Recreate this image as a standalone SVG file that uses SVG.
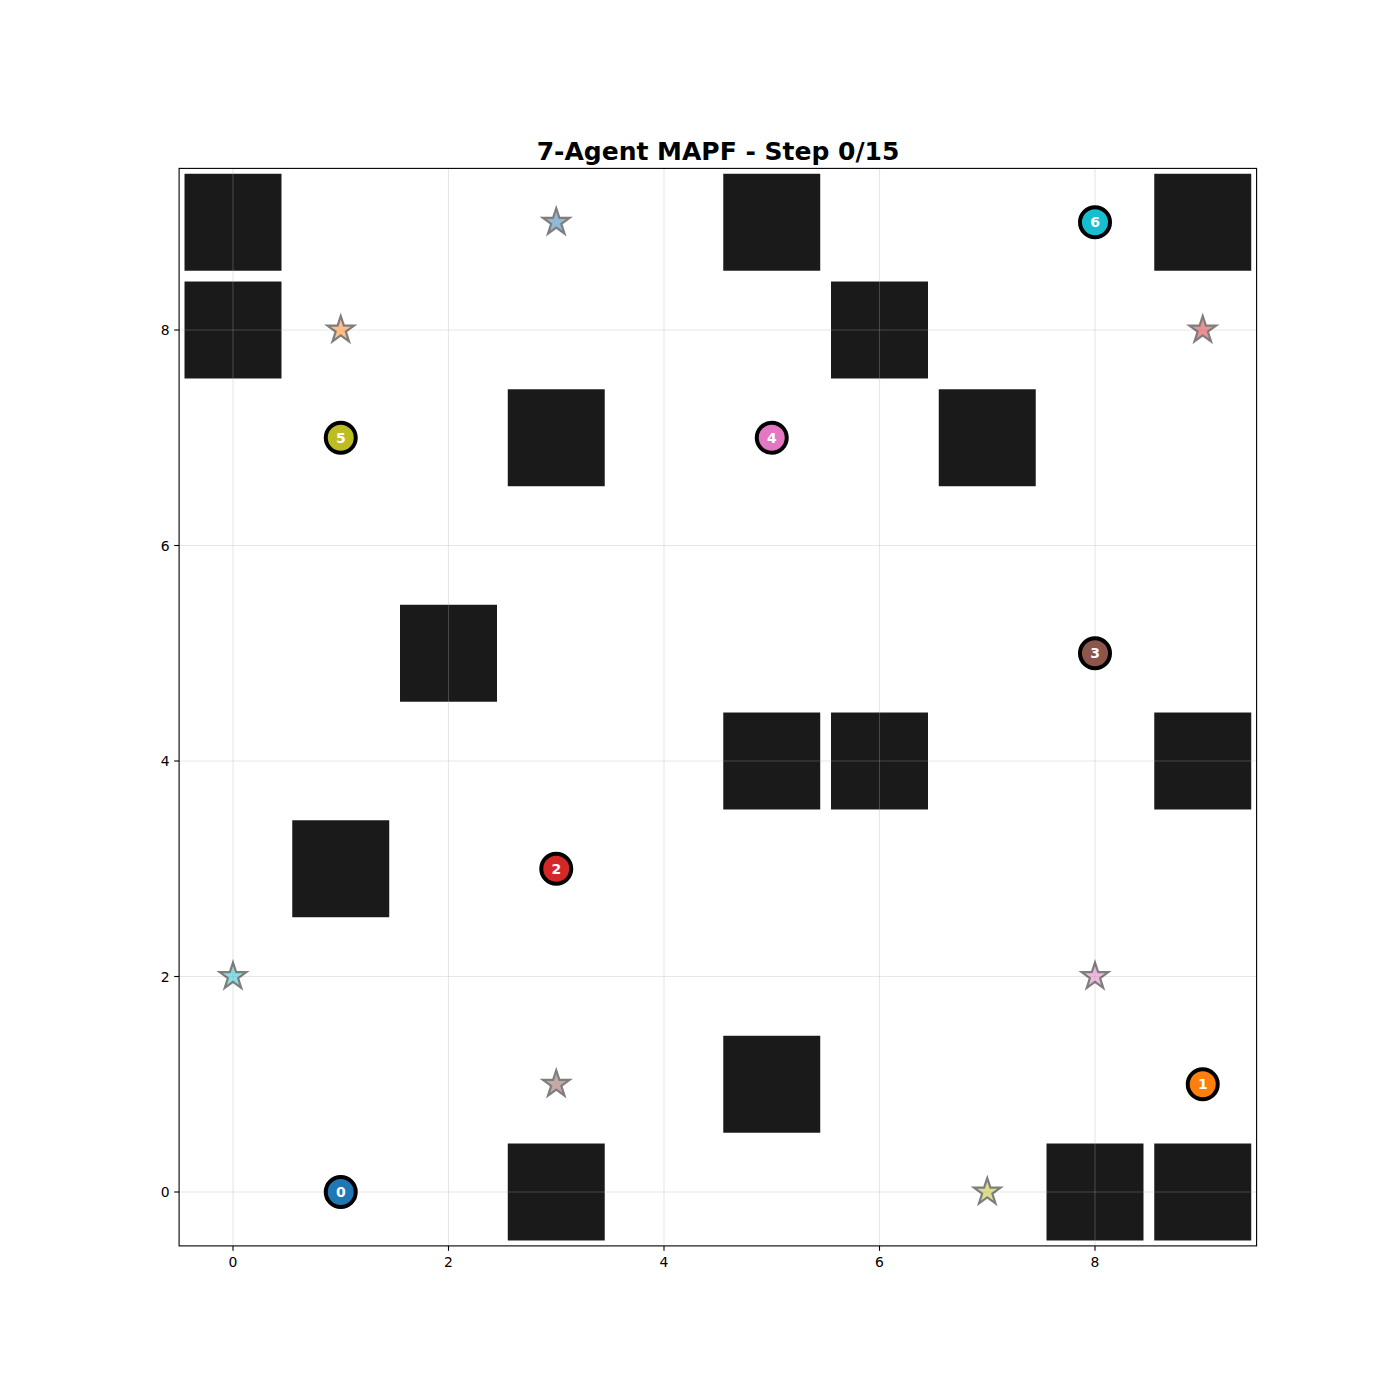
<svg xmlns="http://www.w3.org/2000/svg" width="1400" height="1400" viewBox="0 0 1400 1400">
<style>
.obs{fill:#1a1a1a}
.grid line{stroke:#b0b0b0;stroke-opacity:0.3;stroke-width:1.1}
.tick{stroke:#000;stroke-width:1.1}
.tl{font-family:"DejaVu Sans",sans-serif;font-size:13.9px;fill:#000}
.star{opacity:0.5;stroke:#000;stroke-width:2.2;stroke-linejoin:miter}
.agent circle{stroke:#000;stroke-width:4}
.agent text{font-family:"DejaVu Sans",sans-serif;font-weight:bold;font-size:14px;fill:#fff;text-anchor:middle}
</style>
<defs>
<path id="star" d="M0,-14 L3.145,-4.328 L13.315,-4.326 L5.088,1.653 L8.229,11.326 L0,5.35 L-8.229,11.326 L-5.088,1.653 L-13.315,-4.326 L-3.145,-4.328 Z"/>
</defs>
<rect width="1400" height="1400" fill="#fff"/>
<text x="718" y="160" text-anchor="middle" style="font-family:'DejaVu Sans',sans-serif;font-weight:bold;font-size:25px">7-Agent MAPF - Step 0/15</text>
<g id="obstacles">
<rect class="obs" x="184.51" y="173.76" width="96.98" height="96.98"/>
<rect class="obs" x="184.51" y="281.51" width="96.98" height="96.98"/>
<rect class="obs" x="723.26" y="173.76" width="96.98" height="96.98"/>
<rect class="obs" x="1154.26" y="173.76" width="96.98" height="96.98"/>
<rect class="obs" x="831.01" y="281.51" width="96.98" height="96.98"/>
<rect class="obs" x="507.76" y="389.26" width="96.98" height="96.98"/>
<rect class="obs" x="938.76" y="389.26" width="96.98" height="96.98"/>
<rect class="obs" x="400.01" y="604.76" width="96.98" height="96.98"/>
<rect class="obs" x="723.26" y="712.51" width="96.98" height="96.98"/>
<rect class="obs" x="831.01" y="712.51" width="96.98" height="96.98"/>
<rect class="obs" x="1154.26" y="712.51" width="96.98" height="96.98"/>
<rect class="obs" x="292.26" y="820.26" width="96.98" height="96.98"/>
<rect class="obs" x="723.26" y="1035.76" width="96.98" height="96.98"/>
<rect class="obs" x="507.76" y="1143.51" width="96.98" height="96.98"/>
<rect class="obs" x="1046.51" y="1143.51" width="96.98" height="96.98"/>
<rect class="obs" x="1154.26" y="1143.51" width="96.98" height="96.98"/>
</g>
<g class="grid">
<line x1="233" y1="168.4" x2="233" y2="1245.9"/>
<line x1="448.5" y1="168.4" x2="448.5" y2="1245.9"/>
<line x1="664" y1="168.4" x2="664" y2="1245.9"/>
<line x1="879.5" y1="168.4" x2="879.5" y2="1245.9"/>
<line x1="1095" y1="168.4" x2="1095" y2="1245.9"/>
<line x1="179.1" y1="1192" x2="1256.6" y2="1192"/>
<line x1="179.1" y1="976.5" x2="1256.6" y2="976.5"/>
<line x1="179.1" y1="761" x2="1256.6" y2="761"/>
<line x1="179.1" y1="545.5" x2="1256.6" y2="545.5"/>
<line x1="179.1" y1="330" x2="1256.6" y2="330"/>
</g>
<g id="goals">
<use href="#star" class="star" fill="#1f77b4" x="556.25" y="222.25"/>
<use href="#star" class="star" fill="#ff7f0e" x="340.75" y="330"/>
<use href="#star" class="star" fill="#d62728" x="1202.75" y="330"/>
<use href="#star" class="star" fill="#8c564b" x="556.25" y="1084.25"/>
<use href="#star" class="star" fill="#e377c2" x="1095" y="976.5"/>
<use href="#star" class="star" fill="#bcbd22" x="987.25" y="1192"/>
<use href="#star" class="star" fill="#17becf" x="233" y="976.5"/>
</g>
<g id="agent0" class="agent"><circle cx="340.75" cy="1192" r="15" fill="#1f77b4"/><text x="340.75" y="1197">0</text></g>
<g id="agent1" class="agent"><circle cx="1202.75" cy="1084.25" r="15" fill="#ff7f0e"/><text x="1202.75" y="1089.25">1</text></g>
<g id="agent2" class="agent"><circle cx="556.25" cy="868.75" r="15" fill="#d62728"/><text x="556.25" y="873.75">2</text></g>
<g id="agent3" class="agent"><circle cx="1095" cy="653.25" r="15" fill="#8c564b"/><text x="1095" y="658.25">3</text></g>
<g id="agent4" class="agent"><circle cx="771.75" cy="437.75" r="15" fill="#e377c2"/><text x="771.75" y="442.75">4</text></g>
<g id="agent5" class="agent"><circle cx="340.75" cy="437.75" r="15" fill="#bcbd22"/><text x="340.75" y="442.75">5</text></g>
<g id="agent6" class="agent"><circle cx="1095" cy="222.25" r="15" fill="#17becf"/><text x="1095" y="227.25">6</text></g>
<g id="axes">
<rect x="179.1" y="168.4" width="1077.5" height="1077.5" fill="none" stroke="#000" stroke-width="1.1"/>
<line class="tick" x1="233" y1="1245.9" x2="233" y2="1250.8"/>
<line class="tick" x1="448.5" y1="1245.9" x2="448.5" y2="1250.8"/>
<line class="tick" x1="664" y1="1245.9" x2="664" y2="1250.8"/>
<line class="tick" x1="879.5" y1="1245.9" x2="879.5" y2="1250.8"/>
<line class="tick" x1="1095" y1="1245.9" x2="1095" y2="1250.8"/>
<line class="tick" x1="179.1" y1="1192" x2="174.2" y2="1192"/>
<line class="tick" x1="179.1" y1="976.5" x2="174.2" y2="976.5"/>
<line class="tick" x1="179.1" y1="761" x2="174.2" y2="761"/>
<line class="tick" x1="179.1" y1="545.5" x2="174.2" y2="545.5"/>
<line class="tick" x1="179.1" y1="330" x2="174.2" y2="330"/>
<text class="tl" x="233" y="1267" text-anchor="middle">0</text>
<text class="tl" x="448.5" y="1267" text-anchor="middle">2</text>
<text class="tl" x="664" y="1267" text-anchor="middle">4</text>
<text class="tl" x="879.5" y="1267" text-anchor="middle">6</text>
<text class="tl" x="1095" y="1267" text-anchor="middle">8</text>
<text class="tl" x="169.5" y="1197" text-anchor="end">0</text>
<text class="tl" x="169.5" y="981.5" text-anchor="end">2</text>
<text class="tl" x="169.5" y="766" text-anchor="end">4</text>
<text class="tl" x="169.5" y="550.5" text-anchor="end">6</text>
<text class="tl" x="169.5" y="335" text-anchor="end">8</text>
</g>
</svg>
